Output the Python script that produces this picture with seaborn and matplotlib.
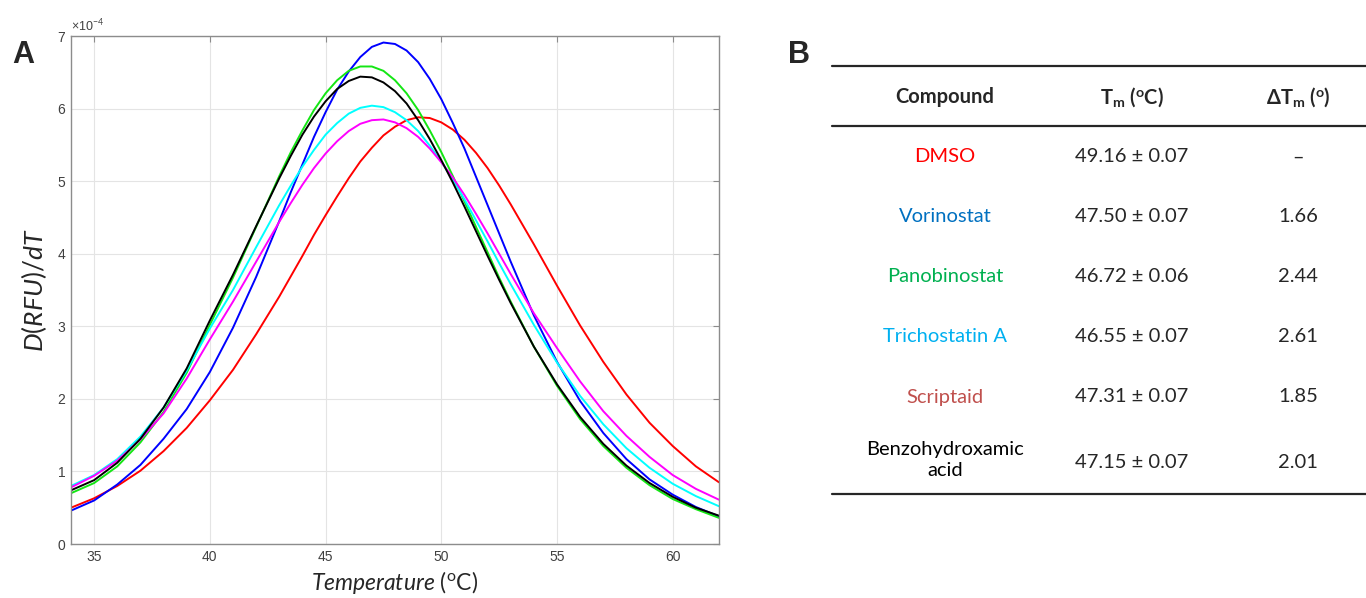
import pandas as pd
import matplotlib
matplotlib.use('Agg')
import matplotlib.pyplot as plt
import seaborn as sns

# melt curves, first derivative of fluorescence (x 1e-4)
temperature = [34, 35, 36, 37, 38, 39, 40, 41, 42, 43,
               43.5, 44, 44.5, 45, 45.5, 46, 46.5, 47, 47.5, 48, 48.5, 49, 49.5, 50, 50.5, 51, 51.5, 52, 52.5,
               53, 54, 55, 56, 57, 58, 59, 60, 61, 62]

dmso = [0.50, 0.63, 0.80, 1.01, 1.28, 1.60, 1.98, 2.40, 2.89, 3.41,
        3.69, 3.97, 4.26, 4.53, 4.79, 5.04, 5.27, 5.46, 5.63, 5.75, 5.84, 5.88, 5.87, 5.81, 5.71, 5.57, 5.39, 5.18, 4.94,
        4.68, 4.13, 3.56, 3.01, 2.51, 2.06, 1.67, 1.35, 1.07, 0.85]
vorinostat = [0.46, 0.60, 0.82, 1.09, 1.45, 1.86, 2.37, 2.98, 3.68, 4.45,
              4.85, 5.23, 5.61, 5.95, 6.26, 6.51, 6.71, 6.85, 6.91, 6.89, 6.80, 6.64, 6.41, 6.13, 5.80, 5.45, 5.06, 4.67, 4.28,
              3.89, 3.15, 2.51, 1.97, 1.53, 1.17, 0.89, 0.68, 0.51, 0.38]
panobinostat = [0.70, 0.84, 1.07, 1.40, 1.82, 2.36, 3.02, 3.67, 4.37, 5.07,
                5.40, 5.70, 5.98, 6.21, 6.39, 6.52, 6.58, 6.58, 6.52, 6.39, 6.21, 5.98, 5.70, 5.40, 5.07, 4.72, 4.37, 4.02, 3.67,
                3.34, 2.72, 2.18, 1.72, 1.35, 1.05, 0.81, 0.62, 0.48, 0.36]
trichostatin = [0.80, 0.95, 1.17, 1.48, 1.88, 2.39, 2.97, 3.50, 4.09, 4.67,
                4.94, 5.20, 5.43, 5.64, 5.80, 5.93, 6.01, 6.04, 6.02, 5.95, 5.84, 5.69, 5.49, 5.27, 5.02, 4.75, 4.46, 4.17, 3.87,
                3.58, 3.02, 2.50, 2.04, 1.65, 1.32, 1.05, 0.83, 0.66, 0.52]
scriptaid = [0.78, 0.94, 1.15, 1.44, 1.80, 2.28, 2.82, 3.34, 3.89, 4.44,
             4.70, 4.95, 5.18, 5.38, 5.55, 5.69, 5.79, 5.84, 5.85, 5.81, 5.73, 5.61, 5.45, 5.26, 5.05, 4.81, 4.55, 4.28, 4.00,
             3.72, 3.18, 2.70, 2.24, 1.83, 1.49, 1.20, 0.95, 0.76, 0.61]
benzohydroxamic = [0.74, 0.88, 1.12, 1.45, 1.88, 2.42, 3.08, 3.71, 4.38, 5.04,
                   5.35, 5.64, 5.89, 6.10, 6.27, 6.38, 6.44, 6.43, 6.36, 6.24, 6.07, 5.84, 5.58, 5.29, 4.98, 4.65, 4.31, 3.97, 3.64,
                   3.32, 2.72, 2.20, 1.75, 1.38, 1.08, 0.84, 0.65, 0.50, 0.39]

curve_names = ['DMSO', 'Vorinostat', 'Panobinostat', 'Trichostatin A', 'Scriptaid', 'Benzohydroxamic acid']
curve_values = [dmso, vorinostat, panobinostat, trichostatin, scriptaid, benzohydroxamic]
curve_colors = ['#ff0000', '#0000ff', '#14e614', '#00ffff', '#ff00ff', '#000000']

x_ticks = [35, 40, 45, 50, 55, 60]
x_tick_labels = ['35', '40', '45', '50', '55', '60']
y_ticks = [0, 1, 2, 3, 4, 5, 6, 7]
y_tick_labels = ['0', '1', '2', '3', '4', '5', '6', '7']

# table (panel B)
compounds = ['DMSO', 'Vorinostat', 'Panobinostat', 'Trichostatin A', 'Scriptaid', 'Benzohydroxamic\nacid']
compound_colors = ['#ff0000', '#0070c0', '#00b050', '#00b0f0', '#c0504d', '#000000']
tm_mean = ['49.16', '47.50', '46.72', '46.55', '47.31', '47.15']
tm_err = ['0.07', '0.07', '0.06', '0.07', '0.07', '0.07']
delta_tm = ['\u2013', '1.66', '2.44', '2.61', '1.85', '2.01']

sns.set_style('white')
plt.rcParams['font.family'] = ['Lato', 'DejaVu Sans']
plt.rcParams['mathtext.fontset'] = 'custom'
plt.rcParams['mathtext.rm'] = 'Lato'
plt.rcParams['mathtext.it'] = 'Lato:italic'
plt.rcParams['mathtext.bf'] = 'Lato:bold'

df = pd.DataFrame({
    'Temperature': temperature * len(curve_names),
    'dRFU': sum(curve_values, []),
    'curve': [n for n in curve_names for _ in temperature],
})

W, H = 1366, 598
fig = plt.figure(figsize=(W / 100, H / 100), dpi=100)
ax = fig.add_axes([71 / W, 54 / H, 648 / W, 508 / H])

sns.lineplot(data=df, x='Temperature', y='dRFU', hue='curve', hue_order=curve_names,
             palette=dict(zip(curve_names, curve_colors)), estimator=None, lw=1.4,
             legend=False, ax=ax)

ax.set_xlim(34, 62)
ax.set_ylim(0, 7)
ax.set_xticks(x_ticks, x_tick_labels, fontfamily='Liberation Sans')
ax.set_yticks(y_ticks, y_tick_labels, fontfamily='Liberation Sans')
ax.grid(True, color='#e4e4e4', lw=0.8)
ax.tick_params(direction='in', length=4, top=True, right=True, labelsize=10,
               labelcolor='#404040', color='#8c8c8c', pad=4)
for s in ax.spines.values():
    s.set_color('#8c8c8c')
    s.set_linewidth(1.0)

ax.set_ylabel(r'$\mathit{D(RFU)/dT}$', fontsize=19, labelpad=6)
ax.set_xlabel(r'$\mathit{Temperature}$ ($^{\mathrm{o}}$C)', fontsize=16.5, labelpad=4)
ax.text(0.0, 1.004, r'$\times$10$^{-4}$', transform=ax.transAxes, fontsize=9,
        color='#404040', ha='left', va='bottom', fontfamily='Liberation Sans')

fig.text(12 / W, 1 - 55 / H, 'A', fontsize=22, fontweight='bold', fontfamily='Liberation Sans',
         ha='left', va='center')
fig.text(788 / W, 1 - 55 / H, 'B', fontsize=22, fontweight='bold', fontfamily='Liberation Sans',
         ha='left', va='center')

# table in pixel coordinates
tb = fig.add_axes([0, 0, 1, 1])
tb.set_xlim(0, W)
tb.set_ylim(H, 0)
tb.axis('off')
tb.patch.set_alpha(0)

col_x = [945, 1132, 1298]
for y in [66, 126, 494]:
    tb.plot([832, W], [y, y], color='#262626', lw=1.6)

fs = 14.5
tb.text(col_x[0], 97, 'Compound', fontsize=fs, fontweight='bold', ha='center', va='center')
tb.text(col_x[1], 97, r'T$_\mathbf{m}$ ($^\mathbf{o}$C)', fontsize=fs, fontweight='bold',
        ha='center', va='center')
tb.text(col_x[2], 97, '\u0394' + r'T$_\mathbf{m}$ ($^\mathbf{o}$)', fontsize=fs, fontweight='bold',
        ha='center', va='center')

row_y = [157, 217, 277, 337, 397, 460]
for i, name in enumerate(compounds):
    tb.text(col_x[0], row_y[i], name, fontsize=fs, color=compound_colors[i],
            ha='center', va='center', linespacing=1.3)
    tb.text(col_x[1], row_y[i] + (2 if i == 5 else 0), f'{tm_mean[i]} \u00b1 {tm_err[i]}', fontsize=fs,
            ha='center', va='center')
    tb.text(col_x[2], row_y[i] + (2 if i == 5 else 0), delta_tm[i], fontsize=fs,
            ha='center', va='center')

fig.savefig('out.png', dpi=100)
